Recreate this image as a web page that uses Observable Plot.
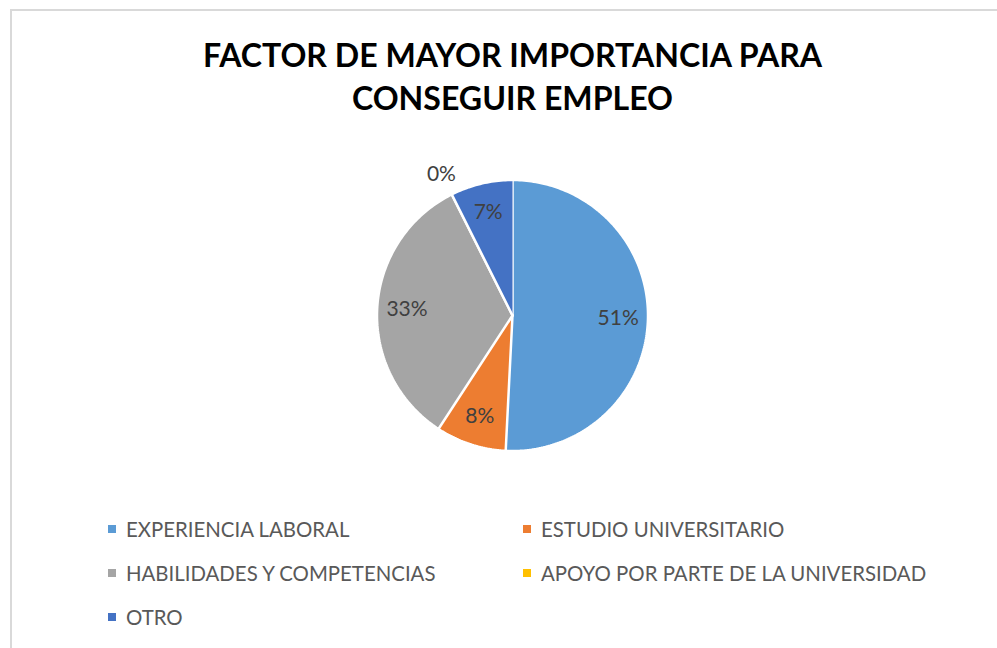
<!DOCTYPE html>
<html><head><meta charset="utf-8">
<script src="https://cdn.jsdelivr.net/npm/d3@7"></script>
<script src="https://cdn.jsdelivr.net/npm/@observablehq/plot@0.6"></script>
<style>
html,body{margin:0;padding:0;background:#fff;}
#chart{position:relative;width:997px;height:648px;overflow:hidden;font-family:Lato,"Open Sans",sans-serif;}
#frame{position:absolute;left:10px;top:9px;width:1100px;height:800px;border:2px solid #d9d9d9;box-sizing:border-box;}
#title{position:absolute;left:0;top:33px;width:1025px;text-align:center;font-weight:bold;font-size:32.1px;line-height:43px;color:#000;}
#plot{position:absolute;left:0;top:140px;}
.leg{position:absolute;height:24px;display:flex;align-items:center;font-size:20.4px;color:#595959;white-space:nowrap;}
.sw{width:8px;height:8px;margin-right:10px;flex:none;}
</style></head>
<body>
<div id="chart">
  <div id="frame"></div>
  <div id="title">FACTOR DE MAYOR IMPORTANCIA PARA<br>CONSEGUIR EMPLEO</div>
  <div id="plot"></div>
</div>
<script>
const categories = ["EXPERIENCIA LABORAL","ESTUDIO UNIVERSITARIO","HABILIDADES Y COMPETENCIAS","APOYO POR PARTE DE LA UNIVERSIDAD","OTRO"];
const values = [50.8, 8.4, 33.4, 0, 7.4];
const colors = ["#5B9BD5","#ED7D31","#A5A5A5","#FFC000","#4472C4"];

const R = 135.5;           // pie radius in px
const W = 997, H = 350;    // svg size
const CX = 512, CY = 175;  // pie centre inside svg

const data = categories.map((name, i) => ({name, value: values[i]}));
const total = d3.sum(values);
const arcs = d3.pie().sort(null).value(d => d.value)(data);

const pts = [];
for (const a of arcs) {
  const n = Math.max(2, Math.ceil((a.endAngle - a.startAngle) / (Math.PI / 180)));
  pts.push({name: a.data.name, u: 0, v: 0});
  for (let k = 0; k <= n; k++) {
    const t = a.startAngle + (a.endAngle - a.startAngle) * k / n;
    pts.push({name: a.data.name, u: Math.sin(t), v: Math.cos(t)});
  }
}
const labels = arcs.map(a => {
  const mid = (a.startAngle + a.endAngle) / 2;
  const r = a.data.value > 0 ? 0.78 : 1.17;
  return {u: r * Math.sin(mid), v: r * Math.cos(mid), text: Math.round(a.data.value / total * 100) + "%"};
});

const chart = Plot.plot({
  width: W, height: H, margin: 0,
  x: {domain: [-CX / R, (W - CX) / R], axis: null},
  y: {domain: [-(H - CY) / R, CY / R], axis: null},
  color: {domain: categories, range: colors},
  style: {fontFamily: "Lato, 'Open Sans', sans-serif", background: "transparent"},
  marks: [
    Plot.line(pts, {x: "u", y: "v", z: "name", fill: "name", stroke: "white", strokeWidth: 2.5, strokeLinejoin: "miter"}),
    Plot.text(labels, {x: "u", y: "v", text: "text", fill: "#404040", fontSize: 21})
  ]
});
document.getElementById("plot").appendChild(chart);

// legend
const chartEl = document.getElementById("chart");
const colX = [108, 523], rowY = [529, 573, 617];
categories.forEach((c, i) => {
  const el = document.createElement("div");
  el.className = "leg";
  el.style.left = colX[i % 2] + "px";
  el.style.top = (rowY[Math.floor(i / 2)] - 12) + "px";
  el.innerHTML = `<span class="sw" style="background:${colors[i]}"></span><span>${c}</span>`;
  chartEl.appendChild(el);
});
</script>
</body></html>
